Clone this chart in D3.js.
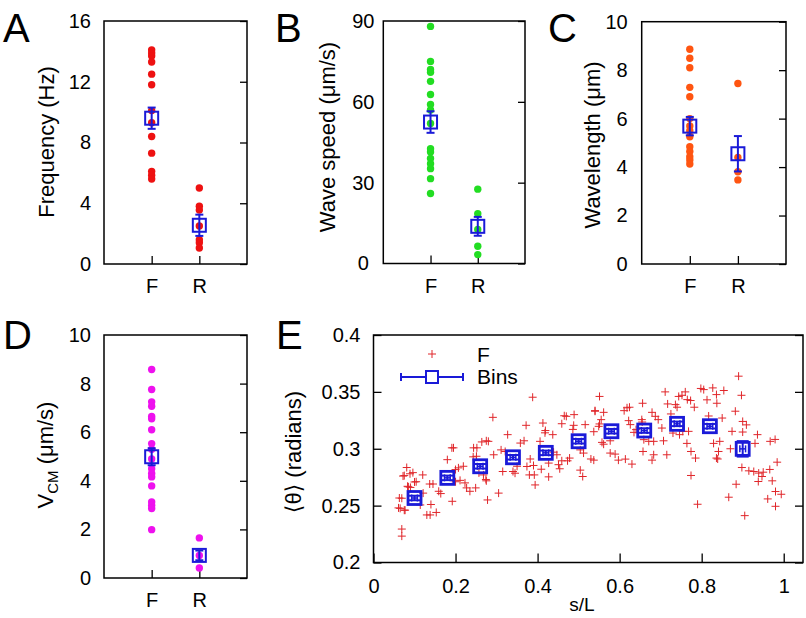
<!DOCTYPE html>
<html><head><meta charset="utf-8">
<script src="https://cdn.jsdelivr.net/npm/d3@7/dist/d3.min.js"></script>
<style>
body{margin:0;background:#fff}
svg{display:block}
text{font-family:"Liberation Sans",Arial,Helvetica,sans-serif;fill:#000}
</style>
</head><body>
<svg id="c" width="806" height="618"></svg>
<script>
// ---------- DATA ----------
const categories = ["F", "R"];

const freqF = [14.1, 13.9, 13.7, 13.3, 12.5, 11.8, 10.1, 9.3, 8.4, 7.3, 6.1, 5.85, 5.6];
const freqR = [5.0, 3.8, 3.55, 2.5, 1.6, 1.4, 1.05];
const freqMean = [9.6, 2.55];
const freqErr = [0.7, 0.7];
const freqTicks = [0, 4, 8, 12, 16];

const speedF = [88, 75, 72, 71, 67.6, 62.7, 59, 57, 52, 42.6, 41.4, 39, 37, 35.2, 31.5, 26];
const speedR = [27.6, 18.5, 12.6, 6.4, 3.3];
const speedMean = [52.5, 13.8];
const speedErr = [4, 3.5];
const speedTicks = [0, 30, 60, 90];

const waveF = [8.86, 8.49, 8.1, 7.29, 6.9, 6.0, 5.7, 5.5, 5.25, 4.84, 4.64, 4.43, 4.29, 4.13];
const waveR = [7.45, 4.4, 3.81, 3.47];
const waveMean = [5.69, 4.55];
const waveErr = [0.38, 0.73];
const waveTicks = [0, 2, 4, 6, 8, 10];

const vcmF = [8.58, 7.76, 7.25, 7.07, 6.65, 6.55, 6.1, 5.53, 5.3, 4.9, 4.5, 4.3, 4.16, 3.79, 3.13, 2.99, 2.86, 1.99];
const vcmR = [1.65, 0.93, 0.41];
const vcmMean = [4.99, 0.93];
const vcmErr = [0.35, 0.2];
const vcmTicks = [0, 2, 4, 6, 8, 10];

// Panel E: scatter (s/L, <theta>) and bins
const thetaPoints = [
 [0.069,0.2232],[0.069,0.2294],[0.065,0.2476],[0.061,0.248],[0.077,0.246],[0.063,0.2567],[0.069,0.2565],
 [0.083,0.267],[0.085,0.2665],[0.09,0.266],[0.081,0.2835],[0.072,0.276],[0.089,0.278],[0.096,0.279],
 [0.12,0.277],[0.104,0.271],[0.1,0.2708],[0.114,0.2506],[0.121,0.261],[0.14,0.251],[0.13,0.2418],
 [0.138,0.2418],[0.153,0.244],[0.137,0.269],[0.145,0.269],[0.159,0.2626],[0.164,0.2606],[0.192,0.2538],
 [0.18,0.2904],[0.191,0.3008],[0.195,0.3008],[0.2,0.2817],[0.207,0.2832],[0.219,0.2846],[0.2,0.271],
 [0.211,0.2722],[0.223,0.27],[0.227,0.2656],[0.235,0.2626],[0.249,0.2656],[0.257,0.2788],[0.243,0.2929],
 [0.251,0.2934],[0.244,0.3008],[0.252,0.3008],[0.264,0.306],[0.274,0.273],[0.278,0.255],[0.075,0.2764],
 [0.075,0.246],
 [0.291,0.3276],[0.388,0.3453],[0.372,0.3206],[0.413,0.3226],[0.419,0.316],[0.418,0.314],[0.437,0.3124],
 [0.465,0.329],[0.47,0.3285],[0.489,0.330],[0.459,0.322],[0.488,0.3206],[0.516,0.3212],[0.486,0.317],
 [0.327,0.3124],[0.275,0.307],[0.28,0.3065],[0.358,0.305],[0.367,0.307],[0.406,0.3065],[0.311,0.299],
 [0.321,0.2976],[0.293,0.2947],[0.374,0.2844],[0.39,0.2853],[0.382,0.291],[0.427,0.2874],[0.439,0.297],
 [0.447,0.2947],[0.451,0.286],[0.459,0.2894],[0.478,0.2918],[0.473,0.2894],[0.454,0.2824],[0.504,0.299],
 [0.512,0.2962],[0.53,0.291],[0.315,0.28],[0.34,0.28],[0.345,0.2785],[0.38,0.277],[0.392,0.277],
 [0.394,0.2682],[0.409,0.282],[0.427,0.2753],[0.504,0.2812],[0.51,0.2756],[0.268,0.277],[0.275,0.2718],
 [0.305,0.261],[0.54,0.333],[0.35,0.2846],
 [0.551,0.346],[0.54,0.3335],[0.561,0.332],[0.555,0.3256],[0.551,0.3218],[0.549,0.3197],[0.537,0.315],
 [0.611,0.3335],[0.618,0.336],[0.624,0.3365],[0.656,0.340],[0.679,0.332],[0.687,0.3285],[0.694,0.3256],
 [0.622,0.3247],[0.626,0.3212],[0.654,0.3256],[0.655,0.3235],[0.64,0.3168],[0.635,0.3144],[0.703,0.3182],
 [0.711,0.35],[0.717,0.3394],[0.736,0.3388],[0.744,0.346],[0.752,0.347],[0.76,0.35],[0.765,0.3432],
 [0.773,0.3424],[0.74,0.3365],[0.725,0.3306],[0.782,0.3365],[0.798,0.353],[0.73,0.3138],[0.746,0.3124],
 [0.754,0.3153],[0.768,0.3153],[0.659,0.308],[0.671,0.3065],[0.683,0.3065],[0.707,0.307],[0.557,0.3056],
 [0.561,0.304],[0.577,0.307],[0.764,0.3047],[0.774,0.2976],[0.785,0.2918],[0.537,0.290],[0.577,0.2962],
 [0.589,0.2953],[0.597,0.290],[0.614,0.2909],[0.63,0.2865],[0.657,0.2976],[0.683,0.2947],[0.679,0.290],
 [0.715,0.2947],[0.774,0.2765],[0.79,0.2512],
 [0.89,0.3638],[0.897,0.347],[0.805,0.352],[0.827,0.3535],[0.836,0.3476],[0.854,0.3512],[0.813,0.343],
 [0.837,0.340],[0.882,0.333],[0.817,0.3288],[0.85,0.327],[0.9,0.324],[0.909,0.321],[0.874,0.3153],
 [0.9,0.3147],[0.936,0.3124],[0.967,0.3065],[0.979,0.3082],[0.829,0.3047],[0.844,0.3065],[0.93,0.3047],
 [0.87,0.3],[0.841,0.2976],[0.839,0.291],[0.836,0.2918],[0.898,0.2835],[0.915,0.2806],[0.927,0.28],
 [0.939,0.2786],[0.95,0.2794],[0.947,0.2756],[0.938,0.2712],[0.966,0.2818],[0.984,0.2882],[0.972,0.2718],
 [0.884,0.2688],[0.98,0.2624],[0.994,0.26],[0.961,0.2559],[0.98,0.2494],[0.866,0.2574],[0.905,0.2412]
];
const binS = [0.1, 0.18, 0.26, 0.34, 0.42, 0.5, 0.58, 0.66, 0.74, 0.82, 0.9];
const binTheta = [0.2567, 0.2744, 0.2846, 0.2925, 0.2964, 0.3066, 0.3154, 0.316, 0.3219, 0.3198, 0.2999];
const binThetaErr = [0.002, 0.002, 0.002, 0.002, 0.002, 0.002, 0.002, 0.002, 0.002, 0.002, 0.0068];
const binSErr = [0.007, 0.007, 0.007, 0.007, 0.007, 0.007, 0.007, 0.007, 0.007, 0.007, 0.007];
const eYTicks = [0.2, 0.25, 0.3, 0.35, 0.4];
const eYLabels = ["0.2", "0.25", "0.3", "0.35", "0.4"];
const eXTicks = [0, 0.2, 0.4, 0.6, 0.8, 1];
const eXLabels = ["0", "0.2", "0.4", "0.6", "0.8", "1"];

// ---------- DRAW ----------
const svg = d3.select("#c");
const blue = "#1a1ad8";

function letter(t, x, y) {
  svg.append("text").attr("x", x).attr("y", y).style("font-size", "40px").text(t);
}

function dotPanel(o) {
  const g = svg.append("g");
  const x = d3.scalePoint().domain(categories).range([o.l, o.r]).padding(1);
  const y = d3.scaleLinear().domain([o.ticks[0], o.ticks[o.ticks.length - 1]]).range([o.b, o.t]);

  const ax = g.append("g").attr("transform", `translate(${o.l},0)`)
    .call(d3.axisLeft(y).tickValues(o.ticks).tickSize(0).tickPadding(o.pad));
  ax.select(".domain").remove();
  ax.selectAll("text").style("font-size", "20px").style("font-family", "Liberation Sans, Arial, sans-serif").attr("fill", "#000");
  if (o.mid) ax.selectAll("text").attr("text-anchor", "middle").attr("x", -o.mid);

  const ar = g.append("g").attr("transform", `translate(${o.r},0)`)
    .call(d3.axisLeft(y).tickValues(o.ticks).tickSize(7).tickFormat(""));
  ar.select(".domain").remove();
  ar.selectAll("line").attr("stroke", "#000").attr("stroke-width", 1.3);

  const at = g.append("g").attr("transform", `translate(0,${o.b})`)
    .call(d3.axisTop(x).tickSize(8).tickFormat(""));
  at.select(".domain").remove();
  at.selectAll("line").attr("stroke", "#000").attr("stroke-width", 1.3);

  const ab = g.append("g").attr("transform", `translate(0,${o.b})`)
    .call(d3.axisBottom(x).tickSize(0).tickPadding(15));
  ab.select(".domain").remove();
  ab.selectAll("text").style("font-size", "20px").style("font-family", "Liberation Sans, Arial, sans-serif").attr("fill", "#000");

  g.append("rect").attr("x", o.l).attr("y", o.t).attr("width", o.r - o.l).attr("height", o.b - o.t)
    .attr("fill", "none").attr("stroke", "#000").attr("stroke-width", 1.5);

  [o.F, o.R].forEach((arr, i) => {
    g.selectAll(null).data(arr).enter().append("circle")
      .attr("cx", x(categories[i])).attr("cy", d => y(d)).attr("r", 3.7).attr("fill", o.color);
  });

  categories.forEach((c, i) => {
    const cx = x(c), m = o.mean[i], e = o.err[i];
    const y1 = y(m - e), y2 = y(m + e);
    g.append("line").attr("x1", cx).attr("x2", cx).attr("y1", y1).attr("y2", y2).attr("stroke", blue).attr("stroke-width", 2);
    [y1, y2].forEach(yy => g.append("line").attr("x1", cx - 4).attr("x2", cx + 4).attr("y1", yy).attr("y2", yy).attr("stroke", blue).attr("stroke-width", 2));
    g.append("rect").attr("x", cx - 6.5).attr("y", y(m) - 6.5).attr("width", 13).attr("height", 13)
      .attr("fill", "none").attr("stroke", blue).attr("stroke-width", 2);
  });

  const tt = g.append("text").attr("transform", `translate(${o.tx},${o.ty}) rotate(-90)`)
    .attr("text-anchor", "middle").style("font-size", "22px");
  if (o.sub) {
    tt.append("tspan").text(o.title);
    tt.append("tspan").text(o.sub).style("font-size", "15px").attr("dy", 5);
    tt.append("tspan").text(o.title2).attr("dy", -5);
  } else tt.text(o.title);
}

dotPanel({l:104, r:247, t:21, b:264, ticks:freqTicks, pad:13, F:freqF, R:freqR, mean:freqMean, err:freqErr,
  color:"#ee1111", title:"Frequency (Hz)", tx:54, ty:142});
dotPanel({l:383.3, r:525, t:21, b:263.5, ticks:speedTicks, pad:5, mid:20, F:speedF, R:speedR, mean:speedMean, err:speedErr,
  color:"#22dd22", title:"Wave speed (μm/s)", tx:335, ty:137});
dotPanel({l:641.7, r:786, t:21.7, b:264, ticks:waveTicks, pad:14, F:waveF, R:waveR, mean:waveMean, err:waveErr,
  color:"#ff5511", title:"Wavelength (μm)", tx:600, ty:145});
dotPanel({l:104, r:247, t:335, b:578, ticks:vcmTicks, pad:13, F:vcmF, R:vcmR, mean:vcmMean, err:vcmErr,
  color:"#ee11ee", title:"V", sub:"CM", title2:" (μm/s)", tx:53, ty:455});

letter("A", 3, 42);
letter("B", 275, 42);
letter("C", 548, 42);
letter("D", 3, 349);
letter("E", 276, 349);

// Panel E
(function () {
  const L = 373.5, R = 803, T = 335, B = 562.5;
  const g = svg.append("g");
  const x = d3.scaleLinear().domain([0, 1.047]).range([L, R]);
  const y = d3.scaleLinear().domain([0.2, 0.4]).range([B, T]);

  const al = g.append("g").attr("transform", `translate(${L},0)`)
    .call(d3.axisLeft(y).tickValues(eYTicks).tickSize(0).tickPadding(13).tickFormat((d, i) => eYLabels[i]));
  al.select(".domain").remove();
  al.selectAll("text").style("font-size", "20px").style("font-family", "Liberation Sans, Arial, sans-serif").attr("fill", "#000");

  const ali = g.append("g").attr("transform", `translate(${L},0)`)
    .call(d3.axisRight(y).tickValues(eYTicks).tickSize(8).tickFormat(""));
  ali.select(".domain").remove();
  ali.selectAll("line").attr("stroke", "#000").attr("stroke-width", 1.3);
  const ari = g.append("g").attr("transform", `translate(${R},0)`)
    .call(d3.axisLeft(y).tickValues(eYTicks).tickSize(8).tickFormat(""));
  ari.select(".domain").remove();
  ari.selectAll("line").attr("stroke", "#000").attr("stroke-width", 1.3);
  const abi = g.append("g").attr("transform", `translate(0,${B})`)
    .call(d3.axisTop(x).tickValues(eXTicks).tickSize(9).tickFormat(""));
  abi.select(".domain").remove();
  abi.selectAll("line").attr("stroke", "#000").attr("stroke-width", 1.3);
  const ab = g.append("g").attr("transform", `translate(0,${B})`)
    .call(d3.axisBottom(x).tickValues(eXTicks).tickSize(0).tickPadding(16).tickFormat((d, i) => eXLabels[i]));
  ab.select(".domain").remove();
  ab.selectAll("text").style("font-size", "20px").style("font-family", "Liberation Sans, Arial, sans-serif").attr("fill", "#000");

  g.append("rect").attr("x", L).attr("y", T).attr("width", R - L).attr("height", B - T)
    .attr("fill", "none").attr("stroke", "#000").attr("stroke-width", 1.5);

  const red = "#e0262a";
  const plus = (px, py, s) => `M${px - s},${py}H${px + s}M${px},${py - s}V${py + s}`;
  g.append("path").attr("d", thetaPoints.map(p => plus(x(p[0]), y(p[1]), 4)).join(""))
    .attr("stroke", red).attr("stroke-width", 1).attr("fill", "none");

  binS.forEach((s, i) => {
    const cx = x(s), cy = y(binTheta[i]);
    const ey1 = y(binTheta[i] - binThetaErr[i]), ey2 = y(binTheta[i] + binThetaErr[i]);
    const ex1 = x(s - binSErr[i]), ex2 = x(s + binSErr[i]);
    const st = {stroke: blue, "stroke-width": 2, fill: "none"};
    const add = (tag, a) => { const e = g.append(tag); Object.entries(Object.assign({}, st, a)).forEach(([k, v]) => e.attr(k, v)); };
    add("line", {x1: cx, x2: cx, y1: ey1, y2: ey2});
    add("line", {x1: cx - 6, x2: cx + 6, y1: ey1, y2: ey1});
    add("line", {x1: cx - 6, x2: cx + 6, y1: ey2, y2: ey2});
    add("line", {x1: ex1, x2: ex2, y1: cy, y2: cy, "stroke-width": 1.5});
    add("line", {x1: ex1, x2: ex1, y1: cy - 3.5, y2: cy + 3.5, "stroke-width": 1.5});
    add("line", {x1: ex2, x2: ex2, y1: cy - 3.5, y2: cy + 3.5, "stroke-width": 1.5});
    add("rect", {x: cx - 6.5, y: cy - 6.5, width: 13, height: 13, "stroke-width": 2.8});
  });

  g.append("path").attr("d", plus(432, 354, 4)).attr("stroke", red).attr("stroke-width", 1);
  g.append("line").attr("x1", 401).attr("x2", 463).attr("y1", 377).attr("y2", 377).attr("stroke", blue).attr("stroke-width", 2);
  [401, 463].forEach(xx => g.append("line").attr("x1", xx).attr("x2", xx).attr("y1", 373).attr("y2", 381).attr("stroke", blue).attr("stroke-width", 2));
  g.append("rect").attr("x", 426).attr("y", 371).attr("width", 12).attr("height", 12).attr("fill", "#fff").attr("stroke", blue).attr("stroke-width", 2);
  g.append("text").attr("x", 477).attr("y", 362).style("font-size", "21px").text("F");
  g.append("text").attr("x", 477).attr("y", 384).style("font-size", "21px").text("Bins");

  g.append("text").attr("transform", `translate(301,452) rotate(-90)`).attr("text-anchor", "middle")
    .style("font-size", "22px").style("font-family", "Liberation Sans, DejaVu Sans, sans-serif").text("⟨θ⟩ (radians)");
  g.append("text").attr("x", 582).attr("y", 611).attr("text-anchor", "middle").style("font-size", "19px").text("s/L");
})();
</script>
</body></html>
